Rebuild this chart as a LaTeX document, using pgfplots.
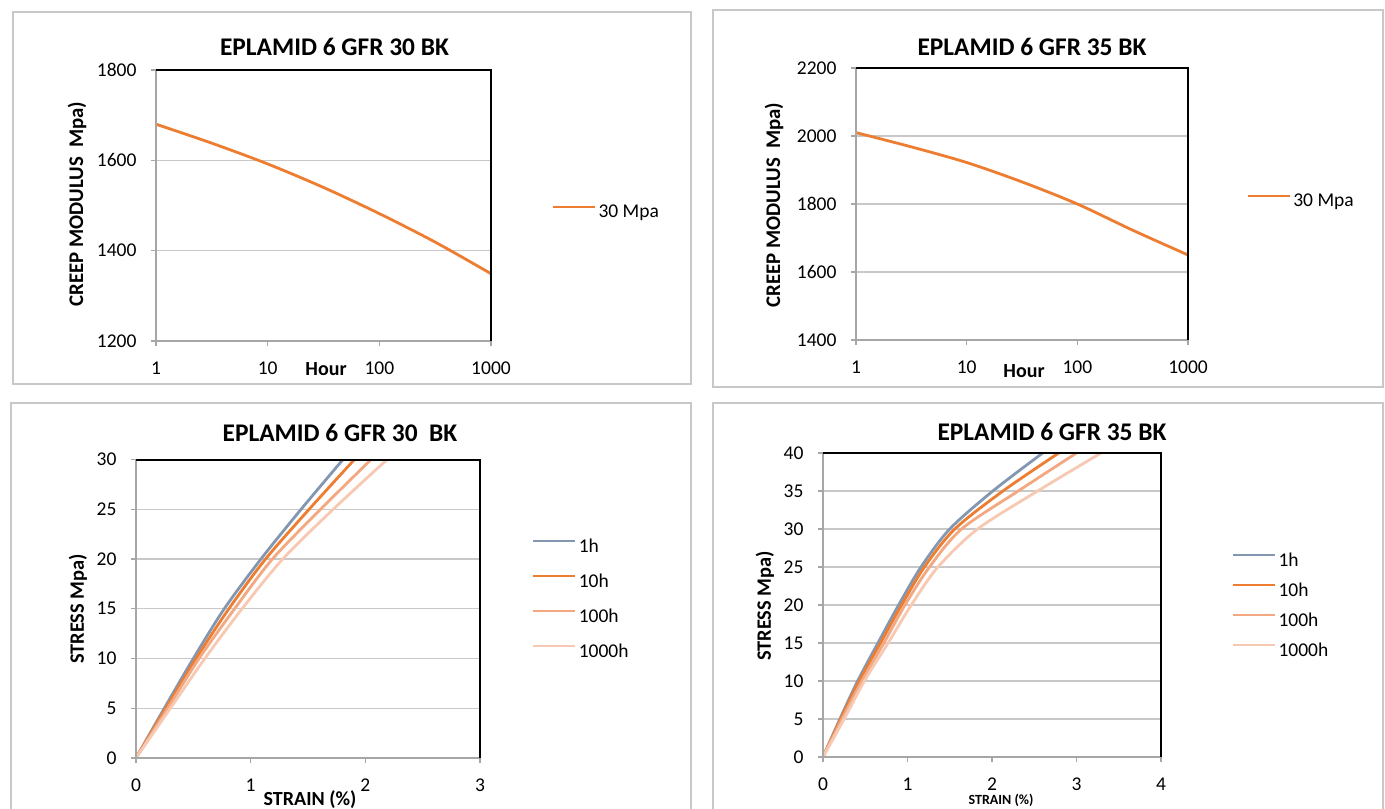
\documentclass[border=0pt]{standalone}
\usepackage{fontspec}
\setmainfont{Carlito}
\usepackage{pgfplots}
\pgfplotsset{compat=1.18}
\definecolor{c1h}{RGB}{132,151,176}
\definecolor{c10h}{RGB}{237,125,49}
\definecolor{c100h}{RGB}{243,168,130}
\definecolor{c1000h}{RGB}{247,201,178}
\definecolor{axgray}{RGB}{166,166,166}
\definecolor{gridgray}{RGB}{200,200,200}
\definecolor{framegray}{RGB}{200,200,200}
\pgfplotsset{
  excel/.style={
    scale only axis, anchor=north west, enlargelimits=false, clip mode=individual,
    axis line style={draw=none},
    tick align=outside, major tick length=2.5pt,
    xtick pos=left, ytick pos=left,
    xminorticks=false, yminorticks=false,
    tick style={draw=axgray, line width=0.6pt},
    ymajorgrids, xmajorgrids=false,
    major grid style={draw=gridgray, line width=0.6pt},
    tick label style={font=\fontsize{9.75}{11}\selectfont},
    /pgf/number format/assume math mode=true,
    /pgf/number format/1000 sep={},
    xticklabel style={yshift=-4.5pt},
    yticklabel style={xshift=-3.75pt},
    legend style={draw=none, fill=none, font=\fontsize{9.75}{11}\selectfont,
      anchor=west, inner sep=0pt, row sep=0pt,
      nodes={inner xsep=1pt, inner ysep=0pt}},
    legend cell align=left,
    legend image code/.code={\draw[##1] (0pt,3pt) -- (21pt,3pt);},
  },
}
\newcommand{\plotframe}[2]{%
  \draw[axgray, line width=#1] (rel axis cs:0,1) -- (rel axis cs:0,0) -- (rel axis cs:1,0);
  \draw[black, line width=#2] (rel axis cs:0,1) -- (rel axis cs:1,1) -- (rel axis cs:1,0);}
\begin{document}
\begin{tikzpicture}
\useasboundingbox (0pt,0pt) rectangle (692.5pt,-404pt);
\clip (0pt,0pt) rectangle (692.5pt,-404pt);
\fill[white] (0pt,0pt) rectangle (692.5pt,-404pt);
\draw[framegray, line width=0.6pt] (6.5pt,-6pt) rectangle (345.5pt,-192pt);
\draw[framegray, line width=0.6pt] (356.5pt,-5pt) rectangle (691.5pt,-193.5pt);
\draw[framegray, line width=0.6pt] (5.5pt,-201.5pt) rectangle (345.5pt,-420pt);
\draw[framegray, line width=0.6pt] (356.5pt,-201.5pt) rectangle (691.5pt,-420pt);

% ---------- Panel 1 ----------
\begin{axis}[excel, at={(78pt,-35pt)}, width=167.5pt, height=135.5pt,
  xmode=log, xmin=1, xmax=1000, xtick={1,10,100,1000}, xticklabels={1,10,100,1000},
  ymin=1200, ymax=1800, ytick={1200,1400,1600,1800},
  legend style={at={(axis description cs:1.18,0.472)}}]
\addplot[c10h, line width=1.4pt, smooth] coordinates {
  (1,1680) (3.16,1638) (10,1592) (31.6,1540) (100,1482) (316,1419) (1000,1349)};
\addlegendentry{30 Mpa}
\plotframe{1pt}{0.7pt}
\end{axis}
\node[font=\bfseries\fontsize{12.7}{15}\selectfont] at (167.25pt,-23.5pt) {EPLAMID 6 GFR 30 BK};
\node[rotate=90, font=\bfseries\fontsize{10.4}{12}\selectfont] at (38.5pt,-102pt) {CREEP MODULUS\ \ Mpa)};
\node[font=\bfseries\fontsize{10}{12}\selectfont] at (163pt,-184.5pt) {Hour};

% ---------- Panel 2 ----------
\begin{axis}[excel, at={(428pt,-34pt)}, width=166pt, height=136pt,
  xmode=log, xmin=1, xmax=1000, xtick={1,10,100,1000}, xticklabels={1,10,100,1000},
  ymin=1400, ymax=2200, ytick={1400,1600,1800,2000,2200},
  legend style={at={(axis description cs:1.175,0.507)}}]
\addplot[c10h, line width=1.4pt, smooth] coordinates {
  (1,2010) (3.16,1968) (10,1922) (31.6,1865) (100,1800) (316,1723) (1000,1650)};
\addlegendentry{30 Mpa}
\plotframe{1.4pt}{0.7pt}
\end{axis}
\node[font=\bfseries\fontsize{12.7}{15}\selectfont] at (516pt,-23.25pt) {EPLAMID 6 GFR 35 BK};
\node[rotate=90, font=\bfseries\fontsize{10.4}{12}\selectfont] at (387pt,-102.5pt) {CREEP MODULUS\ \ Mpa)};
\node[font=\bfseries\fontsize{10}{12}\selectfont] at (512pt,-185.5pt) {Hour};

% ---------- Panel 3 ----------
\begin{axis}[excel, at={(68pt,-229.75pt)}, width=172pt, height=149.25pt,
  xmin=0, xmax=3, xtick={0,1,2,3},
  ymin=0, ymax=30, ytick={0,5,...,30},
  legend style={at={(axis description cs:1.15,0.531)}, nodes={minimum height=17.5pt}}]
\addplot[c1h, line width=1.4pt, smooth] coordinates {
  (0,0) (0.247,5) (0.50,10) (0.77,15) (1.09,20) (1.44,25) (1.805,30)};
\addlegendentry{1h}
\addplot[c10h, line width=1.4pt, smooth] coordinates {
  (0,0) (0.26,5) (0.524,10) (0.81,15) (1.13,20) (1.51,25) (1.905,30)};
\addlegendentry{10h}
\addplot[c100h, line width=1.4pt, smooth] coordinates {
  (0,0) (0.277,5) (0.55,10) (0.86,15) (1.19,20) (1.61,25) (2.05,30)};
\addlegendentry{100h}
\addplot[c1000h, line width=1.4pt, smooth] coordinates {
  (0,0) (0.30,5) (0.60,10) (0.925,15) (1.28,20) (1.72,25) (2.19,30)};
\addlegendentry{1000h}
\plotframe{1.4pt}{1pt}
\end{axis}
\node[font=\bfseries\fontsize{12.7}{15}\selectfont] at (170pt,-216.5pt) {EPLAMID 6 GFR 30\ \ BK};
\node[rotate=90, font=\bfseries\fontsize{10.2}{12}\selectfont] at (39pt,-304.5pt) {STRESS Mpa)};
\node[font=\bfseries\fontsize{10}{12}\selectfont] at (155pt,-400pt) {STRAIN (\%)};

% ---------- Panel 4 ----------
\begin{axis}[excel, at={(411.5pt,-226.5pt)}, width=169pt, height=152pt,
  xmin=0, xmax=4, xtick={0,1,2,3,4},
  ymin=0, ymax=40, ytick={0,5,...,40},
  legend style={at={(axis description cs:1.208,0.497)}, nodes={minimum height=15pt}}]
\addplot[c1h, line width=1.4pt, smooth] coordinates {
  (0,0) (0.20,5) (0.41,10) (0.65,15) (0.895,20) (1.16,25) (1.50,30) (2.01,35) (2.60,40)};
\addlegendentry{1h}
\addplot[c10h, line width=1.4pt, smooth] coordinates {
  (0,0) (0.21,5) (0.43,10) (0.68,15) (0.93,20) (1.20,25) (1.56,30) (2.13,35) (2.79,40)};
\addlegendentry{10h}
\addplot[c100h, line width=1.4pt, smooth] coordinates {
  (0,0) (0.225,5) (0.46,10) (0.72,15) (0.97,20) (1.26,25) (1.64,30) (2.31,35) (3.0,40)};
\addlegendentry{100h}
\addplot[c1000h, line width=1.4pt, smooth] coordinates {
  (0,0) (0.25,5) (0.49,10) (0.77,15) (1.045,20) (1.36,25) (1.83,30) (2.54,35) (3.29,40)};
\addlegendentry{1000h}
\plotframe{1.4pt}{1pt}
\end{axis}
\node[font=\bfseries\fontsize{12.7}{15}\selectfont] at (526pt,-216pt) {EPLAMID 6 GFR 35 BK};
\node[rotate=90, font=\bfseries\fontsize{10.2}{12}\selectfont] at (382.5pt,-303pt) {STRESS Mpa)};
\node[font=\bfseries\fontsize{7}{8}\selectfont] at (500.5pt,-400pt) {STRAIN (\%)};
\end{tikzpicture}
\end{document}
